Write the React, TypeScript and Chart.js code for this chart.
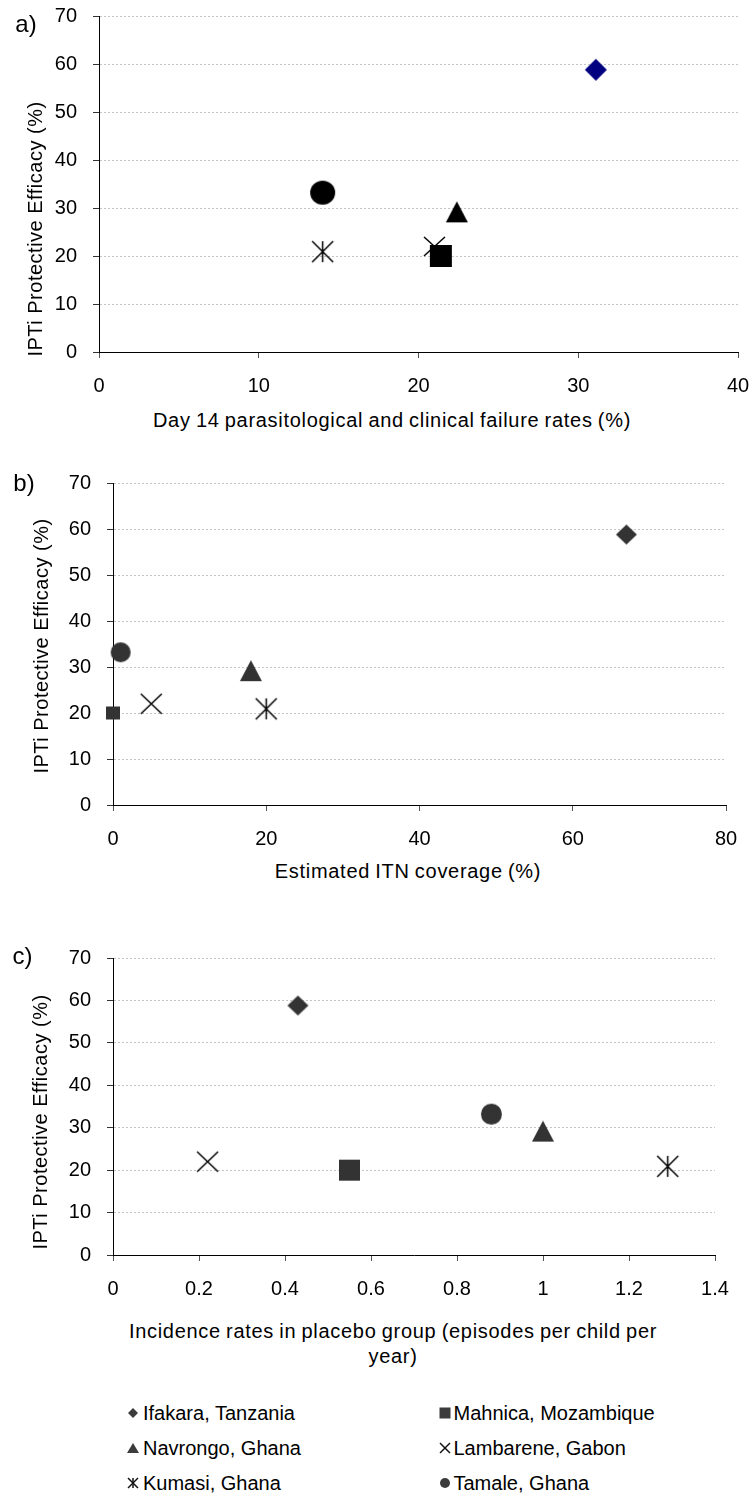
import React, { useEffect, useRef } from 'react';
import { Chart, registerables } from 'chart.js';

Chart.register(...registerables);

// ---------- data ----------
const sites = [
  'Ifakara, Tanzania',
  'Mahnica, Mozambique',
  'Navrongo, Ghana',
  'Lambarene, Gabon',
  'Kumasi, Ghana',
  'Tamale, Ghana',
];
const markerKinds = ['diamond', 'square', 'triangle', 'x', 'star', 'circle'];
const efficacy = [58.8, 20.0, 29.2, 22.0, 20.9, 33.2];
const failureRates = [31.1, 21.4, 22.4, 21.0, 14.0, 14.0];
const itnCoverage = [67, 0, 18, 5, 20, 1];
const incidenceRates = [0.43, 0.55, 1.0, 0.22, 1.29, 0.88];

const yTickLabels = ['0', '10', '20', '30', '40', '50', '60', '70'];
const xTickLabelsA = ['0', '10', '20', '30', '40'];
const xTickLabelsB = ['0', '20', '40', '60', '80'];
const xTickLabelsC = ['0', '0.2', '0.4', '0.6', '0.8', '1', '1.2', '1.4'];

const yTitle = 'IPTi Protective Efficacy (%)';
const xTitleA = 'Day 14 parasitological and clinical failure rates (%)';
const xTitleB = 'Estimated ITN coverage (%)';
const xTitleC1 = 'Incidence rates in placebo group (episodes per child per';
const xTitleC2 = 'year)';

const FONT = "'Liberation Sans', Arial, Helvetica, sans-serif";

// layout padding large enough to dominate Chart.js auto padding
const PAD_TOP = 35;
const PAD_RIGHT = 40;

// ---------- markers ----------
function makeMarker(kind: string, w: number, h: number, color: string, lw = 1.5) {
  const pad = 3;
  const c = document.createElement('canvas');
  c.width = Math.ceil(w + pad * 2);
  c.height = Math.ceil(h + pad * 2);
  const ctx = c.getContext('2d')!;
  const cx = c.width / 2;
  const cy = c.height / 2;
  ctx.fillStyle = color;
  ctx.strokeStyle = color;
  ctx.lineWidth = lw;
  ctx.beginPath();
  switch (kind) {
    case 'diamond':
      ctx.moveTo(cx, cy - h / 2);
      ctx.lineTo(cx + w / 2, cy);
      ctx.lineTo(cx, cy + h / 2);
      ctx.lineTo(cx - w / 2, cy);
      ctx.closePath();
      ctx.fill();
      break;
    case 'square':
      ctx.rect(cx - w / 2, cy - h / 2, w, h);
      ctx.fill();
      break;
    case 'triangle':
      ctx.moveTo(cx, cy - h / 2);
      ctx.lineTo(cx + w / 2, cy + h / 2);
      ctx.lineTo(cx - w / 2, cy + h / 2);
      ctx.closePath();
      ctx.fill();
      break;
    case 'circle':
      ctx.ellipse(cx, cy, w / 2, h / 2, 0, 0, Math.PI * 2);
      ctx.fill();
      break;
    case 'x':
      ctx.moveTo(cx - w / 2, cy - h / 2);
      ctx.lineTo(cx + w / 2, cy + h / 2);
      ctx.moveTo(cx + w / 2, cy - h / 2);
      ctx.lineTo(cx - w / 2, cy + h / 2);
      ctx.stroke();
      break;
    case 'star':
      ctx.moveTo(cx - w / 2, cy - h / 2);
      ctx.lineTo(cx + w / 2, cy + h / 2);
      ctx.moveTo(cx + w / 2, cy - h / 2);
      ctx.lineTo(cx - w / 2, cy + h / 2);
      ctx.moveTo(cx, cy - h / 2);
      ctx.lineTo(cx, cy + h / 2);
      ctx.stroke();
      break;
  }
  return c;
}

type PanelCfg = {
  canvasBottom: number;
  left: number;
  right: number;
  top: number;
  bottom: number;
  xMax: number;
  xStep: number;
  xLabels: string[];
  xValues: number[];
  colors: string[];
  sizes: [number, number][];
};

const panels: PanelCfg[] = [
  {
    canvasBottom: 405, left: 99, right: 738, top: 16, bottom: 352,
    xMax: 40, xStep: 10, xLabels: xTickLabelsA, xValues: failureRates,
    colors: ['#000080', '#000', '#000', '#000', '#000', '#000'],
    sizes: [[22, 22], [22, 22], [22, 21], [21, 19], [21, 21], [25, 24]],
  },
  {
    canvasBottom: 855, left: 113, right: 726, top: 483, bottom: 805,
    xMax: 80, xStep: 20, xLabels: xTickLabelsB, xValues: itnCoverage,
    colors: ['#333', '#333', '#333', '#000', '#000', '#333'],
    sizes: [[21, 20], [14, 13], [22, 21], [21, 20], [21, 21], [20, 20]],
  },
  {
    canvasBottom: 1305, left: 113, right: 715, top: 958, bottom: 1255,
    xMax: 1.4, xStep: 0.2, xLabels: xTickLabelsC, xValues: incidenceRates,
    colors: ['#333', '#333', '#333', '#000', '#000', '#333'],
    sizes: [[21, 20], [21, 21], [22, 21], [21, 20], [21, 21], [21, 21]],
  },
];

function Panel({ cfg }: { cfg: PanelCfg }) {
  const ref = useRef<HTMLCanvasElement>(null);
  const canvasTop = cfg.top - PAD_TOP;
  const canvasH = cfg.canvasBottom - canvasTop;
  const canvasW = cfg.right + PAD_RIGHT;
  useEffect(() => {
    if (!ref.current) return;
    const datasets = sites.map((name, i) => ({
      label: name,
      data: [{ x: cfg.xValues[i], y: efficacy[i] }],
      pointStyle: makeMarker(markerKinds[i], cfg.sizes[i][0], cfg.sizes[i][1], cfg.colors[i]) as any,
      pointRadius: 10,
      pointHoverRadius: 10,
      showLine: false,
      clip: false as any,
    }));
    const tickFont = { family: FONT, size: 20 };
    const chart = new Chart(ref.current, {
      type: 'scatter',
      data: { datasets },
      options: {
        responsive: false,
        animation: false,
        events: [],
        layout: {
          padding: { top: PAD_TOP, right: PAD_RIGHT, left: 0, bottom: 0 },
        },
        plugins: { legend: { display: false }, tooltip: { enabled: false } },
        scales: {
          x: {
            type: 'linear',
            min: 0,
            max: cfg.xMax,
            ticks: {
              stepSize: cfg.xStep,
              color: '#000',
              font: tickFont,
              padding: 16,
              maxRotation: 0,
              autoSkip: false,
              callback: (_v: any, i: number) => cfg.xLabels[i],
            },
            grid: { drawOnChartArea: false, drawTicks: true, tickLength: 6, tickColor: '#555', color: '#555' },
            border: { display: true, color: '#000', width: 1 },
            afterFit: (s: any) => {
              s.height = cfg.canvasBottom - cfg.bottom;
            },
          },
          y: {
            type: 'linear',
            min: 0,
            max: 70,
            ticks: {
              stepSize: 10,
              color: '#000',
              font: tickFont,
              padding: 16,
              callback: (_v: any, i: number) => yTickLabels[i],
            },
            grid: { color: '#c4c4c4', tickColor: '#333', tickLength: 6, lineWidth: 1 },
            border: { display: true, color: '#000', width: 1, dash: [2, 2] },
            afterFit: (s: any) => {
              s.width = cfg.left;
            },
          },
        },
      } as any,
    });
    return () => chart.destroy();
  }, [cfg]);
  return (
    <canvas
      ref={ref}
      width={canvasW}
      height={canvasH}
      style={{ position: 'absolute', left: 0, top: canvasTop, width: canvasW, height: canvasH }}
    />
  );
}

function Txt({ x, y, size, children, rotate, style }: any) {
  return (
    <div
      style={{
        position: 'absolute',
        left: x,
        top: y,
        transform: `translate(-50%, -50%)${rotate ? ' rotate(-90deg)' : ''}`,
        fontFamily: FONT,
        fontSize: size,
        lineHeight: 1.15,
        whiteSpace: 'nowrap',
        color: '#000',
        textAlign: 'center',
        ...style,
      }}
    >
      {children}
    </div>
  );
}

function LegendIcon({ kind }: { kind: string }) {
  const c = '#3c3c3c';
  let el: any = null;
  switch (kind) {
    case 'diamond':
      el = <polygon points="7,2 12,7 7,12 2,7" fill={c} />;
      break;
    case 'square':
      el = <rect x="1.5" y="1.5" width="11" height="11" fill={c} />;
      break;
    case 'triangle':
      el = <polygon points="7,2 13,12 1,12" fill={c} />;
      break;
    case 'x':
      el = (
        <g stroke="#111" strokeWidth="1.5">
          <line x1="2" y1="2" x2="12" y2="12" />
          <line x1="12" y1="2" x2="2" y2="12" />
        </g>
      );
      break;
    case 'star':
      el = (
        <g stroke="#111" strokeWidth="1.5">
          <line x1="2" y1="2" x2="12" y2="12" />
          <line x1="12" y1="2" x2="2" y2="12" />
          <line x1="7" y1="2" x2="7" y2="12" />
        </g>
      );
      break;
    case 'circle':
      el = <circle cx="7" cy="7" r="5" fill={c} />;
      break;
  }
  return (
    <svg width="14" height="14" viewBox="0 0 14 14" style={{ display: 'block' }}>
      {el}
    </svg>
  );
}

const legendOrder = [0, 1, 2, 3, 4, 5];
const legendRowsY = [1413, 1448, 1483];
const legendColsX = [133, 444.5];
const legendTextX = [143, 453.5];

const xTitleStyle = { letterSpacing: '0.7px', wordSpacing: '-1px' };

export default function App() {
  return (
    <div
      style={{
        position: 'absolute',
        left: 0,
        top: 0,
        width: 750,
        height: 1496,
        background: '#fff',
        overflow: 'hidden',
        fontFamily: FONT,
      }}
    >
      {panels.map((p, i) => (
        <Panel key={i} cfg={p} />
      ))}

      <Txt x={26} y={24} size={24}>a)</Txt>
      <Txt x={24} y={483} size={24}>b)</Txt>
      <Txt x={22.5} y={956} size={24}>c)</Txt>

      <Txt x={35} y={229} size={20} rotate style={{ letterSpacing: '0.5px' }}>{yTitle}</Txt>
      <Txt x={41} y={646} size={20} rotate style={{ letterSpacing: '0.5px' }}>{yTitle}</Txt>
      <Txt x={40} y={1122} size={20} rotate style={{ letterSpacing: '0.5px' }}>{yTitle}</Txt>

      <Txt x={392} y={420} size={20} style={xTitleStyle}>{xTitleA}</Txt>
      <Txt x={408} y={871} size={20} style={xTitleStyle}>{xTitleB}</Txt>
      <Txt x={393} y={1344} size={20} style={{ ...xTitleStyle, lineHeight: '25px' }}>
        {xTitleC1}
        <br />
        {xTitleC2}
      </Txt>

      {legendOrder.map((si, k) => {
        const row = Math.floor(k / 2);
        const col = k % 2;
        const y = legendRowsY[row];
        return (
          <React.Fragment key={si}>
            <div style={{ position: 'absolute', left: legendColsX[col] - 7, top: y - 7 }}>
              <LegendIcon kind={markerKinds[si]} />
            </div>
            <div
              style={{
                position: 'absolute',
                left: legendTextX[col],
                top: y,
                transform: 'translateY(-50%)',
                fontFamily: FONT,
                fontSize: 20,
                lineHeight: 1.15,
                whiteSpace: 'nowrap',
                color: '#000',
              }}
            >
              {sites[si]}
            </div>
          </React.Fragment>
        );
      })}
    </div>
  );
}
